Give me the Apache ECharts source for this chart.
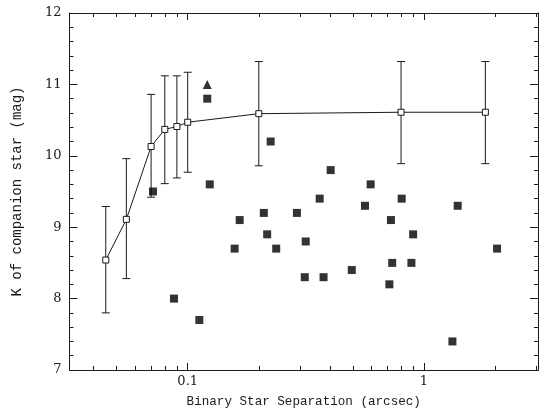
<!DOCTYPE html>
<html><head><meta charset="utf-8">
<script src="https://cdn.jsdelivr.net/npm/echarts@6/dist/echarts.min.js"></script>
<style>html,body{margin:0;padding:0;background:#fff}#c{width:539px;height:413px}</style>
</head><body><div id="c"></div>
<script>
// Mean companion K vs separation (open squares with error bars)
const meanSep  = [0.045, 0.055, 0.07, 0.08, 0.09, 0.1, 0.2, 0.8, 1.82];
const meanK    = [8.54, 9.11, 10.13, 10.37, 10.41, 10.47, 10.59, 10.61, 10.61];
const errLow   = [7.80, 8.28, 9.42, 9.61, 9.69, 9.77, 9.86, 9.89, 9.89];
const errHigh  = [9.29, 9.96, 10.86, 11.12, 11.12, 11.17, 11.32, 11.32, 11.32];
// Individual binaries (filled squares)
const starSep = [0.0713, 0.0875, 0.112, 0.121, 0.124, 0.158, 0.166, 0.21, 0.217, 0.2245, 0.237, 0.29, 0.313, 0.316, 0.362, 0.376, 0.403, 0.495, 0.563, 0.595, 0.714, 0.725, 0.734, 0.805, 0.885, 0.90, 1.32, 1.39, 2.04];
const starK   = [9.5, 8.0, 7.7, 10.8, 9.6, 8.7, 9.1, 9.2, 8.9, 10.2, 8.7, 9.2, 8.3, 8.8, 9.4, 8.3, 9.8, 8.4, 9.3, 9.6, 8.2, 9.1, 8.5, 9.4, 8.5, 8.9, 7.4, 9.3, 8.7];
// Triangle (limit)
const triSep = [0.121];
const triK   = [11.0];
// Axis ticks
const xMajorTicks = [0.1, 1];
const xMinorTicks = [0.04, 0.05, 0.06, 0.07, 0.08, 0.09, 0.2, 0.3, 0.4, 0.5, 0.6, 0.7, 0.8, 0.9, 2, 3];
const xMin = 0.0316, xMax = 3.04;
const yMin = 7, yMax = 12, yStep = 1;

const ink = '#1a1a1a';
const monoFont = '"Liberation Mono", "DejaVu Sans Mono", monospace';
const numFont = '"DejaVu Serif", serif';

function xAx(pos, ticks, len, labels, extra) {
  return Object.assign({
    type: 'log', logBase: 10, min: xMin, max: xMax, position: pos,
    axisLine: { show: true, onZero: false, lineStyle: { color: ink, width: 1 } },
    axisTick: { show: true, inside: true, length: len, customValues: ticks, lineStyle: { color: ink, width: 1 } },
    axisLabel: labels ? { show: true, customValues: ticks, color: ink, fontFamily: numFont, fontSize: 13, margin: 5,
      formatter: v => String(v) } : { show: false },
    splitLine: { show: false }, minorTick: { show: false }
  }, extra || {});
}
function yAx(pos, labels, extra) {
  return Object.assign({
    type: 'value', min: yMin, max: yMax, interval: yStep, position: pos,
    axisLine: { show: true, onZero: false, lineStyle: { color: ink, width: 1 } },
    axisTick: { show: true, inside: true, length: 8, lineStyle: { color: ink, width: 1 } },
    minorTick: { show: true, splitNumber: 5, length: 4, lineStyle: { color: ink, width: 1 } },
    axisLabel: labels ? { show: true, color: ink, fontFamily: numFont, fontSize: 13, margin: 8 } : { show: false },
    splitLine: { show: false }, minorSplitLine: { show: false }
  }, extra || {});
}

const chart = echarts.init(document.getElementById('c'), null, { renderer: 'canvas' });
chart.setOption({
  animation: false,
  backgroundColor: '#fff',
  grid: { left: 69.5, right: 1, top: 13, bottom: 41, containLabel: false },
  xAxis: [
    xAx('bottom', xMajorTicks, 7, true, {
      name: 'Binary Star Separation (arcsec)', nameLocation: 'middle', nameGap: 25,
      nameTextStyle: { color: ink, fontFamily: monoFont, fontSize: 12.6 }
    }),
    xAx('bottom', xMinorTicks, 4, false),
    xAx('top', xMajorTicks, 7, false),
    xAx('top', xMinorTicks, 4, false)
  ],
  yAxis: [
    yAx('left', true, {
      name: 'K of companion star (mag)', nameLocation: 'middle', nameGap: 45,
      nameTextStyle: { color: ink, fontFamily: monoFont, fontSize: 14 }
    }),
    yAx('right', false)
  ],
  series: [
    {
      type: 'custom', xAxisIndex: 0, yAxisIndex: 0, z: 2,
      data: meanSep.map((s, i) => [s, errLow[i], errHigh[i]]),
      encode: { x: 0, y: [1, 2] },
      renderItem: function (params, api) {
        const x = api.value(0);
        const pLo = api.coord([x, api.value(1)]);
        const pHi = api.coord([x, api.value(2)]);
        const w = 4;
        const style = { stroke: ink, lineWidth: 1 };
        return { type: 'group', children: [
          { type: 'line', shape: { x1: pLo[0], y1: pLo[1], x2: pHi[0], y2: pHi[1] }, style: style },
          { type: 'line', shape: { x1: pLo[0] - w, y1: pLo[1], x2: pLo[0] + w, y2: pLo[1] }, style: style },
          { type: 'line', shape: { x1: pHi[0] - w, y1: pHi[1], x2: pHi[0] + w, y2: pHi[1] }, style: style }
        ]};
      }
    },
    {
      type: 'line', xAxisIndex: 0, yAxisIndex: 0, z: 3,
      data: meanSep.map((s, i) => [s, meanK[i]]),
      symbol: 'rect', symbolSize: 6, showAllSymbol: true,
      lineStyle: { color: ink, width: 1 },
      itemStyle: { color: '#fff', borderColor: ink, borderWidth: 1 }
    },
    {
      type: 'scatter', xAxisIndex: 0, yAxisIndex: 0, z: 4,
      data: starSep.map((s, i) => [s, starK[i]]),
      symbol: 'rect', symbolSize: 8,
      itemStyle: { color: '#000' }
    },
    {
      type: 'scatter', xAxisIndex: 0, yAxisIndex: 0, z: 4,
      data: triSep.map((s, i) => [s, triK[i]]),
      symbol: 'triangle', symbolSize: 9,
      itemStyle: { color: '#000' }
    }
  ]
});
</script>
</body></html>
